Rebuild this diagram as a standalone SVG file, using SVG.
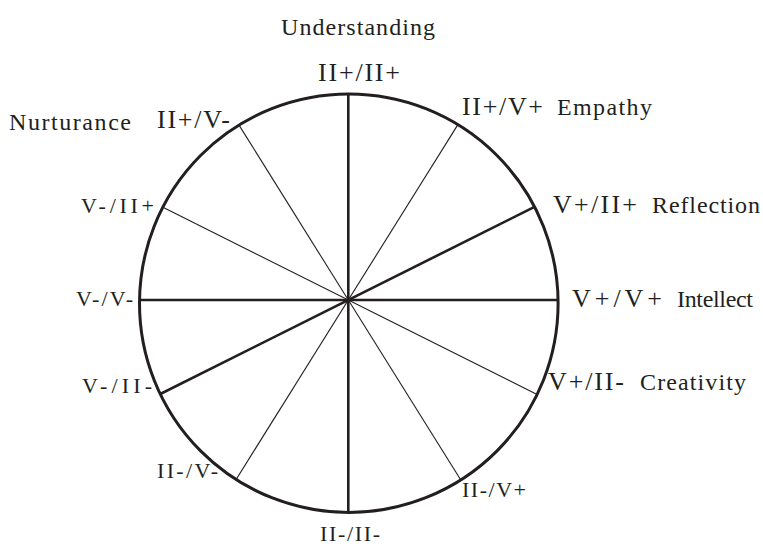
<svg xmlns="http://www.w3.org/2000/svg" width="763" height="548" viewBox="0 0 763 548">
<style>
text{font-family:"Liberation Serif","Times New Roman",serif;fill:#231f20}
.lg{font-size:26px}
.wd{font-size:24px}
.sm{font-size:22px}
.thick{stroke:#231f20;stroke-width:2.6;fill:none}
.thin{stroke:#231f20;stroke-width:1.1;fill:none}
</style>
<rect width="763" height="548" fill="#fff"/>
<g id="connectors">
<line class="thin" x1="162.9" y1="207.3" x2="537.1" y2="394.4"/>
<line class="thin" x1="457.9" y1="124.6" x2="236.1" y2="479.5"/>
<line class="thin" x1="239.0" y1="125.1" x2="460.8" y2="480.0"/>
<line class="thick" x1="139.6" y1="300" x2="558.0" y2="300"/>
<line class="thick" x1="348.3" y1="94" x2="348.3" y2="512.4"/>
<line class="thick" x1="534.5" y1="206.9" x2="160.3" y2="394.0"/>
</g>
<g id="circle">
<ellipse cx="348.8" cy="303.2" rx="209.3" ry="209.2" fill="none" stroke="#231f20" stroke-width="3"/>
</g>
<g id="understanding"><text class="wd" x="281" y="35" textLength="154" lengthAdjust="spacing">Understanding</text></g>
<g id="n-ii-ii"><text class="lg" x="318" y="81" textLength="82" lengthAdjust="spacing">II+/II+</text></g>
<g id="n-ii-v-plus"><text class="lg" x="462" y="115" textLength="81" lengthAdjust="spacing">II+/V+</text><text class="wd" x="557" y="115" textLength="95" lengthAdjust="spacing">Empathy</text></g>
<g id="n-ii-v-minus"><text class="wd" x="9" y="130" textLength="122" lengthAdjust="spacing">Nurturance</text><text class="lg" x="157" y="128" textLength="73" lengthAdjust="spacing">II+/V-</text></g>
<g id="n-v-ii-plus-l"><text class="sm" x="81" y="213" textLength="73" lengthAdjust="spacing">V-/II+</text></g>
<g id="n-v-v-minus"><text class="sm" x="76" y="306" textLength="57" lengthAdjust="spacing">V-/V-</text></g>
<g id="n-v-ii-minus-l"><text class="sm" x="82" y="393" textLength="70" lengthAdjust="spacing">V-/II-</text></g>
<g id="n-v-ii-plus-r"><text class="lg" x="553" y="213" textLength="84" lengthAdjust="spacing">V+/II+</text><text class="wd" x="652" y="213" textLength="108" lengthAdjust="spacing">Reflection</text></g>
<g id="n-v-v-plus"><text class="lg" x="572" y="307" textLength="90" lengthAdjust="spacing">V+/V+</text><text class="wd" x="677" y="307" textLength="76" lengthAdjust="spacing">Intellect</text></g>
<g id="n-v-ii-minus-r"><text class="lg" x="548" y="390" textLength="76" lengthAdjust="spacing">V+/II-</text><text class="wd" x="640" y="390" textLength="106" lengthAdjust="spacing">Creativity</text></g>
<g id="n-ii-v-minus-b"><text class="sm" x="157" y="478" textLength="61" lengthAdjust="spacing">II-/V-</text></g>
<g id="n-ii-v-plus-b"><text class="sm" x="462" y="497" textLength="64" lengthAdjust="spacing">II-/V+</text></g>
<g id="n-ii-ii-minus"><text class="sm" x="320" y="541" textLength="60" lengthAdjust="spacing">II-/II-</text></g>
</svg>
